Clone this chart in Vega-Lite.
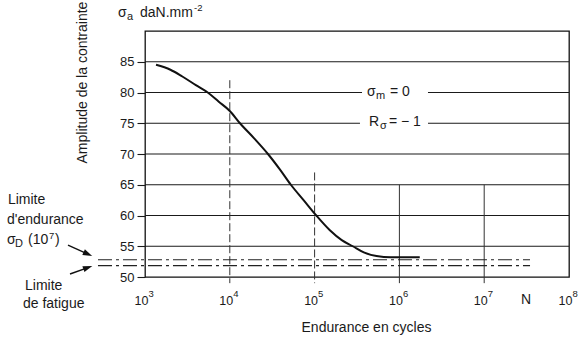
{
  "$schema": "https://vega.github.io/schema/vega-lite/v6.json",
  "width": 424,
  "height": 246,
  "autosize": "none",
  "padding": {"left": 145, "top": 31, "right": 17, "bottom": 66},
  "background": "white",
  "config": {
    "font": "Liberation Sans",
    "view": {"stroke": "#111", "strokeWidth": 1.3}
  },
  "datasets": {
    "curve": [
      {"N": 1349, "sigma": 84.5},
      {"N": 1995, "sigma": 83.7},
      {"N": 2754, "sigma": 82.6},
      {"N": 3981, "sigma": 81.2},
      {"N": 5495, "sigma": 80.0},
      {"N": 7413, "sigma": 78.5},
      {"N": 10000, "sigma": 77.0},
      {"N": 13183, "sigma": 75.0},
      {"N": 19498, "sigma": 72.5},
      {"N": 28184, "sigma": 70.0},
      {"N": 38905, "sigma": 67.5},
      {"N": 52481, "sigma": 65.0},
      {"N": 74131, "sigma": 62.5},
      {"N": 104713, "sigma": 60.0},
      {"N": 151356, "sigma": 57.6},
      {"N": 208930, "sigma": 56.0},
      {"N": 281838, "sigma": 55.0},
      {"N": 380189, "sigma": 54.0},
      {"N": 537032, "sigma": 53.4},
      {"N": 794328, "sigma": 53.2},
      {"N": 1737801, "sigma": 53.2}
    ],
    "gridlines": [
      {"N": 1000, "N2": 100000000, "sigma": 55},
      {"N": 1000, "N2": 100000000, "sigma": 60},
      {"N": 1000, "N2": 100000000, "sigma": 65},
      {"N": 1000, "N2": 100000000, "sigma": 70},
      {"N": 1000, "N2": 342800, "sigma": 75},
      {"N": 2173000, "N2": 100000000, "sigma": 75},
      {"N": 1000, "N2": 362400, "sigma": 80},
      {"N": 2173000, "N2": 100000000, "sigma": 80},
      {"N": 1000, "N2": 100000000, "sigma": 85}
    ],
    "decadesDashed": [
      {"N": 10000, "sigma": 82},
      {"N": 100000, "sigma": 67}
    ],
    "decadesSolid": [
      {"N": 1000000, "sigma": 65},
      {"N": 10000000, "sigma": 65}
    ],
    "exponents": [
      {"N": 1000, "sigma": 47.3, "exp": "3"},
      {"N": 10000, "sigma": 47.3, "exp": "4"},
      {"N": 100000, "sigma": 47.3, "exp": "5"},
      {"N": 1000000, "sigma": 47.3, "exp": "6"},
      {"N": 10000000, "sigma": 47.3, "exp": "7"},
      {"N": 100000000, "sigma": 47.3, "exp": "8"}
    ],
    "limits": [
      {"N": 279, "N2": 34700000, "sigma": 52.8},
      {"N": 279, "N2": 34700000, "sigma": 51.85}
    ],
    "arrows": [
      {"N": 123.6, "sigma": 55.2, "N2": 212.3, "sigma2": 53.72},
      {"N": 130.5, "sigma": 50.49, "N2": 212, "sigma2": 51.53}
    ],
    "headDown": [{"N": 212.3, "sigma": 53.72}],
    "headUp": [{"N": 212, "sigma": 51.53}],
    "labels": [
      {"N": 480.3, "sigma": 92.93, "label": "σ"},
      {"N": 873, "sigma": 92.93, "label": "daN.mm"},
      {"N": 24.2, "sigma": 62.52, "label": "Limite"},
      {"N": 23.6, "sigma": 59.27, "label": "d'endurance"},
      {"N": 23.6, "sigma": 56.02, "label": "σ"},
      {"N": 41.7, "sigma": 56.02, "label": "(10"},
      {"N": 86.8, "sigma": 56.02, "label": ")"},
      {"N": 38.5, "sigma": 48.54, "label": "Limite"},
      {"N": 36.4, "sigma": 45.61, "label": "de fatigue"},
      {"N": 415000, "sigma": 80.08, "label": "σ"},
      {"N": 774000, "sigma": 80.08, "label": "= 0"},
      {"N": 437800, "sigma": 75.2, "label": "R"},
      {"N": 753000, "sigma": 75.2, "label": "= − 1"},
      {"N": 27200000, "sigma": 46.26, "label": "N"}
    ],
    "subscripts": [
      {"N": 614, "sigma": 92.28, "label": "a"},
      {"N": 29.3, "sigma": 55.37, "label": "D"},
      {"N": 529800, "sigma": 79.43, "label": "m"},
      {"N": 590000, "sigma": 74.55, "label": "σ"}
    ],
    "superscripts": [
      {"N": 3787, "sigma": 93.74, "label": "-2"},
      {"N": 73.8, "sigma": 56.67, "label": "7"}
    ]
  },
  "encoding": {
    "x": {
      "field": "N", "type": "quantitative",
      "scale": {"type": "log", "domain": [1000, 100000000], "nice": false},
      "axis": {
        "title": "Endurance en cycles",
        "values": [1000, 10000, 100000, 1000000, 10000000, 100000000],
        "labelExpr": "'10'",
        "ticks": false, "tickSize": 0, "domain": false, "grid": false,
        "labelFlush": false, "labelOverlap": false, "labelBound": false,
        "labelFontSize": 12.5, "labelPadding": 17, "labelOffset": -4, "labelAlign": "center", "labelColor": "#1a1a1a",
        "titleFontSize": 14, "titleFontWeight": "normal", "titleColor": "#1a1a1a",
        "titleX": 221, "titleY": 50, "titleBaseline": "middle", "titleAlign": "center"
      }
    },
    "y": {
      "field": "sigma", "type": "quantitative",
      "scale": {"domain": [50, 90], "nice": false, "zero": false},
      "axis": {
        "title": "Amplitude de la contrainte",
        "values": [50, 55, 60, 65, 70, 75, 80, 85],
        "grid": false, "domain": false,
        "tickSize": 8, "tickColor": "#1a1a1a", "tickWidth": 1.1,
        "labelFontSize": 13, "labelPadding": 3, "labelColor": "#1a1a1a",
        "titleAngle": 270, "titleX": -63, "titleY": 132,
        "titleAlign": "left", "titleBaseline": "middle",
        "titleFontSize": 14, "titleFontWeight": "normal", "titleColor": "#1a1a1a"
      }
    }
  },
  "layer": [
    {
      "data": {"name": "gridlines"},
      "mark": {"type": "rule", "color": "#1a1a1a", "strokeWidth": 1.1},
      "encoding": {"x2": {"field": "N2"}}
    },
    {
      "data": {"name": "decadesDashed"},
      "mark": {"type": "rule", "color": "#333", "strokeWidth": 1, "strokeDash": [8, 3]},
      "encoding": {"y2": {"datum": 49}}
    },
    {
      "data": {"name": "decadesSolid"},
      "mark": {"type": "rule", "color": "#333", "strokeWidth": 1},
      "encoding": {"y2": {"datum": 49}}
    },
    {
      "data": {"name": "limits"},
      "mark": {"type": "rule", "color": "#222", "strokeWidth": 1.1, "strokeDash": [14, 4, 3, 4]},
      "encoding": {"x2": {"field": "N2"}}
    },
    {
      "data": {"name": "curve"},
      "mark": {"type": "line", "color": "#111", "strokeWidth": 2, "interpolate": "monotone"},
      "encoding": {}
    },
    {
      "data": {"name": "arrows"},
      "mark": {"type": "rule", "color": "#111", "strokeWidth": 1.4},
      "encoding": {"x2": {"field": "N2"}, "y2": {"field": "sigma2"}}
    },
    {
      "data": {"name": "headDown"},
      "mark": {"type": "point", "shape": "M1,0L-1,-0.65L-1,0.65Z", "filled": true, "opacity": 1, "color": "#111", "size": 90, "angle": 24.6}
    },
    {
      "data": {"name": "headUp"},
      "mark": {"type": "point", "shape": "M1,0L-1,-0.65L-1,0.65Z", "filled": true, "opacity": 1, "color": "#111", "size": 90, "angle": 340}
    },
    {
      "data": {"name": "exponents"},
      "mark": {"type": "text", "align": "left", "baseline": "middle", "fontSize": 9.5, "dx": 3.5, "color": "#1a1a1a"},
      "encoding": {"text": {"field": "exp"}}
    },
    {
      "data": {"name": "labels"},
      "mark": {"type": "text", "align": "left", "baseline": "middle", "fontSize": 14, "color": "#1a1a1a"},
      "encoding": {"text": {"field": "label"}}
    },
    {
      "data": {"name": "subscripts"},
      "mark": {"type": "text", "align": "left", "baseline": "middle", "fontSize": 11, "color": "#1a1a1a"},
      "encoding": {"text": {"field": "label"}}
    },
    {
      "data": {"name": "superscripts"},
      "mark": {"type": "text", "align": "left", "baseline": "middle", "fontSize": 9.5, "color": "#1a1a1a"},
      "encoding": {"text": {"field": "label"}}
    }
  ]
}
